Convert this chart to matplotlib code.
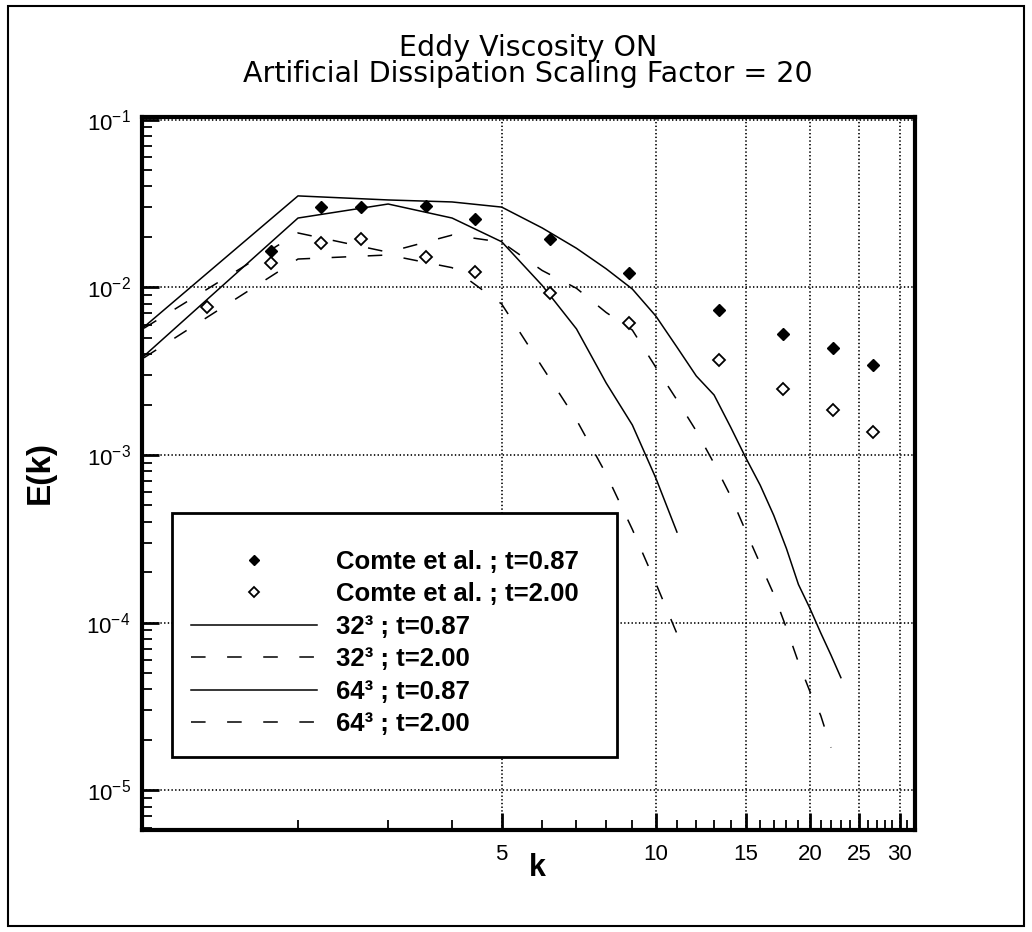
import matplotlib
matplotlib.use("Agg")
import matplotlib.pyplot as plt
from matplotlib.lines import Line2D
from matplotlib.patches import Rectangle
from matplotlib.ticker import FixedLocator, FixedFormatter, NullFormatter, LogLocator, LogFormatterSciNotation

plt.rcParams['font.family'] = ['Liberation Sans', 'DejaVu Sans']
plt.rcParams['lines.scale_dashes'] = False

# Comte-Bellot & Corrsin data points
k_comte_087 = [1.77, 2.22, 2.66, 3.55, 4.44, 6.21, 8.87, 13.3, 17.7, 22.2, 26.6]
E_comte_087 = [0.0165, 0.0303, 0.0300, 0.0305, 0.0255, 0.0193, 0.0121, 0.00733, 0.00525, 0.00433, 0.00344]
k_comte_200 = [1.33, 1.77, 2.22, 2.66, 3.55, 4.44, 6.21, 8.87, 13.3, 17.7, 22.2, 26.6]
E_comte_200 = [0.0076, 0.0139, 0.01845, 0.0195, 0.0152, 0.0124, 0.0092, 0.00615, 0.00368, 0.00248, 0.00186, 0.00138]

# 32^3 runs
k_32 = [1, 2, 3, 4, 5, 6, 7, 8, 9, 10, 11]
E_32_087 = [0.00389, 0.0259, 0.0314, 0.0259, 0.0187, 0.01026, 0.00565, 0.00269, 0.00151, 7.3e-4, 3.47e-4]
E_32_200 = [0.0038, 0.01475, 0.0156, 0.0131, 0.00795, 0.00335, 0.00162, 7.7e-4, 3.6e-4, 1.72e-4, 8.6e-5]

# 64^3 runs
k_64a = [1, 2, 3, 4, 5, 6, 7, 8, 9, 10, 11, 12, 13, 14, 15, 16, 17, 18, 19, 20, 21, 22, 23]
E_64_087 = [0.0058, 0.0351, 0.0332, 0.0323, 0.0301, 0.0226, 0.0171, 0.0129, 0.00977, 0.00675,
            0.0044, 0.00296, 0.00228, 0.00147, 9.6e-4, 6.6e-4, 4.37e-4, 2.77e-4, 1.69e-4,
            1.22e-4, 8.7e-5, 6.4e-5, 4.7e-5]
k_64b = [1, 2, 3, 4, 5, 6, 7, 8, 9, 10, 11, 12, 13, 14, 15, 16, 17, 18, 19, 20, 21, 22]
E_64_200 = [0.0057, 0.0211, 0.0162, 0.0205, 0.0186, 0.0126, 0.00987, 0.00708, 0.00556, 0.00334,
            0.00213, 0.00139, 8.9e-4, 5.7e-4, 3.5e-4, 2.24e-4, 1.48e-4, 9.3e-5, 5.8e-5,
            3.9e-5, 2.8e-5, 1.8e-5]

x_major = [5, 10, 15, 20, 25, 30]
x_major_labels = ['5', '10', '15', '20', '25', '30']
x_minor = [2, 3, 4, 6, 7, 8, 9, 11, 12, 13, 14, 16, 17, 18, 19, 21, 22, 23, 24,
           26, 27, 28, 29, 31]

legend_labels = ['Comte et al. ; t=0.87', 'Comte et al. ; t=2.00',
                 '32\u00b3 ; t=0.87', '32\u00b3 ; t=2.00',
                 '64\u00b3 ; t=0.87', '64\u00b3 ; t=2.00']

W, H = 1032, 932
fig = plt.figure(figsize=(W / 100, H / 100), dpi=100)
ax = fig.add_axes([141.7 / W, 1 - 830 / H, (915 - 141.7) / W, (830 - 117.3) / H])

dash = (0, (10.5, 15.5))
lw = 1.1
ax.plot(k_64a, E_64_087, color='k', lw=lw, zorder=3)
ax.plot(k_64b, E_64_200, color='k', lw=lw, linestyle=dash, zorder=3)
ax.plot(k_32, E_32_087, color='k', lw=lw, zorder=3)
ax.plot(k_32, E_32_200, color='k', lw=lw, linestyle=dash, zorder=3)
ax.plot(k_comte_087, E_comte_087, linestyle='none', marker='D', ms=6, color='k', zorder=4)
ax.plot(k_comte_200, E_comte_200, linestyle='none', marker='D', ms=6, mfc='white',
        mec='k', mew=1.3, zorder=4)

ax.set_xscale('log')
ax.set_yscale('log')
ax.set_xlim(0.99, 32.1)
ax.set_ylim(5.8e-6, 0.1033)

ax.xaxis.set_major_locator(FixedLocator(x_major))
ax.xaxis.set_major_formatter(FixedFormatter(x_major_labels))
ax.xaxis.set_minor_locator(FixedLocator(x_minor))
ax.xaxis.set_minor_formatter(NullFormatter())
ax.yaxis.set_major_locator(LogLocator(base=10, numticks=10))
ax.yaxis.set_major_formatter(LogFormatterSciNotation())
ax.yaxis.set_minor_locator(LogLocator(base=10, subs=range(2, 10), numticks=20))
ax.yaxis.set_minor_formatter(NullFormatter())

ax.tick_params(which='both', direction='in', top=False, right=False, labelsize=16)
ax.tick_params(which='major', length=12, width=2)
ax.tick_params(which='minor', length=7, width=1.3)
ax.tick_params(axis='x', which='major', pad=10)
ax.tick_params(axis='y', which='major', pad=8)

ax.grid(True, which='major', linestyle=':', color='k', lw=1.2)
for sp in ax.spines.values():
    sp.set_linewidth(3)

# legend box
ax.add_patch(Rectangle((0.0388, 0.1029), 0.5754, 0.3415, transform=ax.transAxes,
                       facecolor='white', edgecolor='k', lw=2, zorder=5))
handles = [
    Line2D([], [], linestyle='none', marker='D', ms=5, color='k'),
    Line2D([], [], linestyle='none', marker='D', ms=5, mfc='white', mec='k', mew=1.3),
    Line2D([], [], color='k', lw=lw),
    Line2D([], [], color='k', lw=lw, linestyle=dash),
    Line2D([], [], color='k', lw=lw),
    Line2D([], [], color='k', lw=lw, linestyle=dash),
]
leg = ax.legend(handles, legend_labels, loc='upper left', bbox_to_anchor=(0.0634, 0.393),
                frameon=False, prop={'weight': 'bold', 'size': 18.5}, handlelength=4.9,
                handletextpad=0.75, labelspacing=0.33, borderpad=0, borderaxespad=0,
                numpoints=1)
leg.set_zorder(6)

fig.text(528 / W, 1 - 61 / H, 'Eddy Viscosity ON\nArtificial Dissipation Scaling Factor = 20',
         ha='center', va='center', multialignment='center', linespacing=0.92,
         fontsize=20.5, family='DejaVu Sans')
fig.text(40 / W, 1 - 472 / H, 'E(k)', rotation=90, ha='center', va='center', fontsize=24,
         fontweight='bold')
fig.text(537 / W, 1 - 868 / H, 'k', ha='center', va='center', fontsize=22, fontweight='bold')

fig.add_artist(Rectangle((8 / W, 6 / H), (W - 16) / W, (H - 12) / H, transform=fig.transFigure,
                         fill=False, edgecolor='k', lw=1.5))

fig.savefig('out.png', dpi=100)
